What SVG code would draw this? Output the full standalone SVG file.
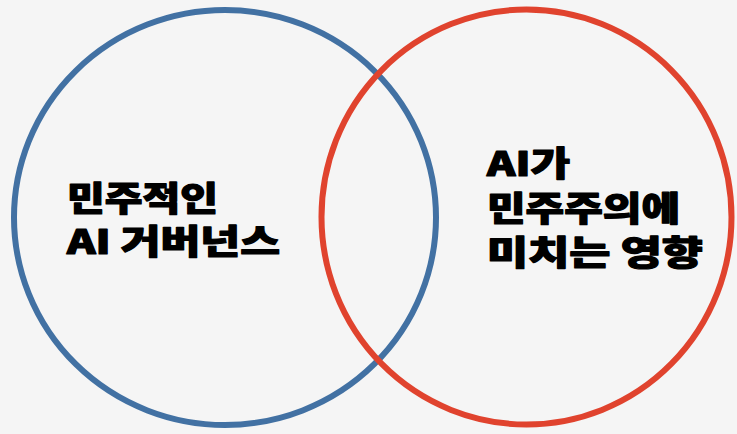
<svg xmlns="http://www.w3.org/2000/svg" width="737" height="434" viewBox="0 0 737 434">
<style>
.c{fill:none;stroke-width:6}
.t{font-family:"Noto Sans CJK KR","Noto Sans",sans-serif;font-weight:900;font-size:34px;fill:#000;stroke:#000;stroke-width:1.2px;stroke-linejoin:round}
</style>
<rect width="737" height="434" fill="#f5f5f5"/>
<g id="blue">
<ellipse class="c" cx="225" cy="217.5" rx="211" ry="207.5" stroke="#4271a3"/>
<text class="t" x="67" y="211" textLength="151" lengthAdjust="spacingAndGlyphs">민주적인</text>
<text class="t" x="67" y="254" textLength="213" lengthAdjust="spacingAndGlyphs">AI 거버넌스</text>
</g>
<g id="red">
<ellipse class="c" cx="526.5" cy="217" rx="205" ry="207.5" stroke="#e0432e"/>
<text class="t" x="487" y="176" textLength="83" lengthAdjust="spacingAndGlyphs">AI가</text>
<text class="t" x="487" y="221" textLength="193" lengthAdjust="spacingAndGlyphs">민주주의에</text>
<text class="t" x="487" y="265" textLength="216" lengthAdjust="spacingAndGlyphs">미치는 영향</text>
</g>
</svg>
